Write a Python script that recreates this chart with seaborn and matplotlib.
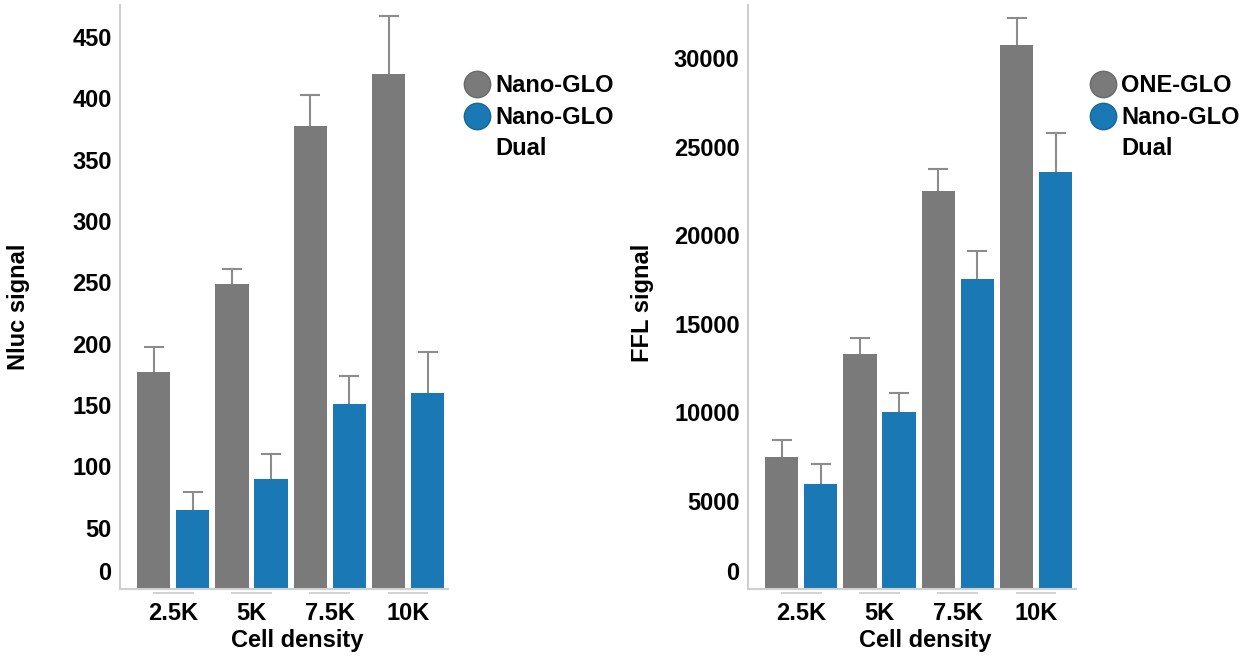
import matplotlib
matplotlib.use("Agg")
import matplotlib.pyplot as plt
import matplotlib.transforms as mtransforms
from matplotlib.lines import Line2D
import seaborn as sns
import pandas as pd

densities = ["2.5K", "5K", "7.5K", "10K"]

# Left panel: Nluc signal
nluc_reagents = ["Nano-GLO", "Nano-GLO Dual"]
nluc_nano = [177, 249, 377, 420]
nluc_nano_err = [20, 12, 26, 47]
nluc_dual = [64, 90, 151, 160]
nluc_dual_err = [15, 20, 23, 33]

# Right panel: FFL signal
ffl_reagents = ["ONE-GLO", "Nano-GLO Dual"]
ffl_one = [7480, 13260, 22480, 30740]
ffl_one_err = [950, 900, 1260, 1520]
ffl_dual = [5950, 9980, 17500, 23550]
ffl_dual_err = [1120, 1100, 1620, 2210]

GRAY = "#7a7a7a"
BLUE = "#1a79b4"
SPINE = "#cfcfcf"
ERR = "#8c8c8c"
FS = 17

sns.set_theme(style="white")
plt.rcParams["font.family"] = ["Liberation Sans", "DejaVu Sans"]
plt.rcParams["font.weight"] = "bold"
plt.rcParams["text.color"] = "black"
plt.rcParams["axes.labelcolor"] = "black"
plt.rcParams["xtick.labelcolor"] = "black"
plt.rcParams["ytick.labelcolor"] = "black"

fig = plt.figure(figsize=(12.55, 6.6), dpi=100)
axL = fig.add_axes([120 / 1255, 71 / 660, 328 / 1255, 584 / 660])
axR = fig.add_axes([748 / 1255, 71 / 660, 328 / 1255, 584 / 660])


def panel(ax, reagents, v1, e1, v2, e2, ylim, yticks, ylabel, legend_labels,
          ylabel_xy, leg_x):
    df = pd.DataFrame({
        "density": densities * 2,
        "reagent": [reagents[0]] * 4 + [reagents[1]] * 4,
        "value": list(v1) + list(v2),
    })
    sns.barplot(data=df, x="density", y="value", hue="reagent", order=densities,
                hue_order=reagents, palette=[GRAY, BLUE], width=1.0, gap=0.15,
                errorbar=None, legend=False, ax=ax, saturation=1, linewidth=0)
    errs = [e1, e2]
    for cont, err in zip(ax.containers, errs):
        xs = [p.get_x() + p.get_width() / 2 for p in cont.patches]
        hs = [p.get_height() for p in cont.patches]
        tops = [h + e for h, e in zip(hs, err)]
        ax.vlines(xs, hs, tops, color=ERR, lw=1.5, zorder=1)
        ax.plot(xs, tops, linestyle="none", marker="_", markersize=15,
                markeredgewidth=1.5, color=ERR, zorder=1)
    ax.set_xlim(-0.68, 3.51)
    ax.set_ylim(*ylim)
    ax.set_yticks(yticks)
    ax.set_yticklabels([str(t) for t in yticks])
    for sp in ["top", "right"]:
        ax.spines[sp].set_visible(False)
    for sp in ["left", "bottom"]:
        ax.spines[sp].set_color(SPINE)
        ax.spines[sp].set_linewidth(1.5)
    ax.tick_params(axis="y", length=0, pad=6, labelsize=FS, labelcolor="black")
    ax.tick_params(axis="x", which="major", length=4, width=1.2, color=SPINE,
                   direction="out", pad=5, labelsize=FS, labelcolor="black")
    for lab in ax.get_yticklabels() + ax.get_xticklabels():
        lab.set_fontweight("bold")
    # the "0" label sits a little above the baseline in the reference
    lab0 = ax.get_yticklabels()[0]
    lab0.set_transform(lab0.get_transform() +
                       mtransforms.ScaledTranslation(0, 13 / 72, fig.dpi_scale_trans))
    # boundary minor ticks
    ax.set_xticks([-0.5, 0.5, 1.5, 2.5, 3.5], minor=True)
    ax.tick_params(axis="x", which="minor", length=5, width=1.2, color=SPINE, direction="out")
    # brackets under category ticks
    tr = ax.get_xaxis_transform()
    for i in range(len(densities)):
        ax.plot([i - 0.26, i + 0.26], [-0.0075, -0.0075], transform=tr, color=SPINE,
                lw=1.3, clip_on=False, solid_capstyle="butt")
    ax.set_xlabel("Cell density", fontsize=FS, fontweight="bold")
    ax.xaxis.set_label_coords(0.54, -0.068)
    ax.set_ylabel(ylabel, fontsize=FS, fontweight="bold")
    ax.yaxis.set_label_coords(*ylabel_xy)
    handles = [
        Line2D([], [], marker="o", linestyle="none", markersize=19, markerfacecolor=GRAY,
               markeredgecolor="#6a6a6a", markeredgewidth=1),
        Line2D([], [], marker="o", linestyle="none", markersize=19, markerfacecolor=BLUE,
               markeredgecolor="#16679a", markeredgewidth=1),
        Line2D([], [], linestyle="none"),
    ]
    ax.legend(handles, legend_labels, loc="upper left", bbox_to_anchor=(leg_x, 0.881),
              frameon=False, borderpad=0, borderaxespad=0, handlelength=1.0,
              handletextpad=0.28, labelspacing=0.36,
              prop={"size": FS, "weight": "bold"})


panel(axL, nluc_reagents, nluc_nano, nluc_nano_err, nluc_dual, nluc_dual_err,
      (0, 476), [0, 50, 100, 150, 200, 250, 300, 350, 400, 450], "Nluc signal",
      ["Nano-GLO", "Nano-GLO", "Dual"], (-0.274, 0.483), 1.052)
panel(axR, ffl_reagents, ffl_one, ffl_one_err, ffl_dual, ffl_dual_err,
      (0, 33000), [0, 5000, 10000, 15000, 20000, 25000, 30000], "FFL signal",
      ["ONE-GLO", "Nano-GLO", "Dual"], (-0.287, 0.49), 1.046)

fig.savefig("out.png", dpi=100)
